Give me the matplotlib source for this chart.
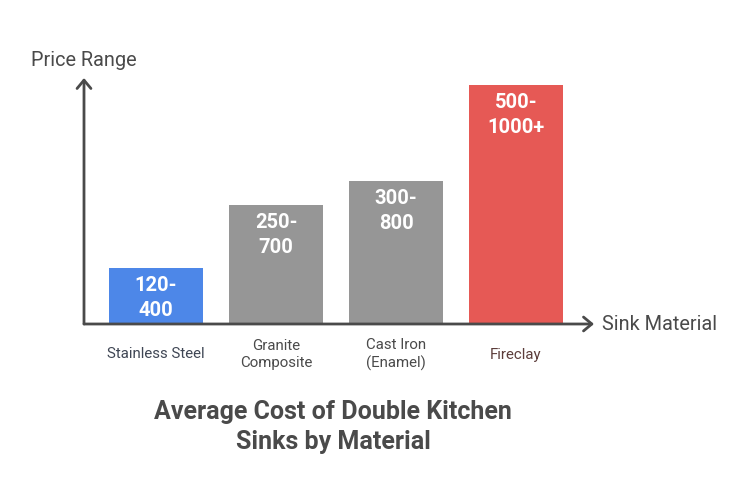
import matplotlib
matplotlib.use("Agg")
import matplotlib.pyplot as plt

plt.rcParams['font.family'] = ['Roboto', 'DejaVu Sans']

# values, bar heights are in pixels of the original
materials = ["Stainless Steel", "Granite\nComposite", "Cast Iron\n(Enamel)", "Fireclay"]
price_labels = ["120-\n400", "250-\n700", "300-\n800", "500-\n1000+"]
bar_heights = [56, 119, 143, 239]
bar_colors = ["#4d87e8", "#969696", "#969696", "#e65955"]
label_colors = ["#3f4654", "#4a4a4a", "#4a4a4a", "#5c3d3b"]

fig = plt.figure(figsize=(7.44, 5.04), dpi=100)
ax = fig.add_axes([0, 0, 1, 1])
ax.set_xlim(0, 744)
ax.set_ylim(504, 0)
ax.axis('off')

baseline = 324
centers = [156, 276, 396, 516]

# y axis is inverted, so the bars start at their top edge
tops = [baseline - h for h in bar_heights]
ax.bar(centers, bar_heights, width=94, bottom=tops, color=bar_colors, linewidth=0)

for c, top, txt in zip(centers, tops, price_labels):
    ax.text(c, top + 30, txt, ha='center', va='center', color='white',
            fontsize=14.5, fontweight='bold', linespacing=1.36)

for c, name, col in zip(centers, materials, label_colors):
    ax.text(c, 354.5, name, ha='center', va='center', color=col,
            fontsize=10.8, linespacing=1.3)

# axes with open arrow heads
axis_col = "#4a4a4a"
arrow = dict(arrowstyle='->,head_length=0.6,head_width=0.5', color=axis_col,
             lw=2, shrinkA=0, shrinkB=0)
ax.annotate("", xy=(84, 78), xytext=(84, 324), arrowprops=arrow)
ax.annotate("", xy=(594, 324), xytext=(84, 324), arrowprops=arrow)

ax.text(31, 60, "Price Range", ha='left', va='center', color=axis_col, fontsize=14.3)
ax.text(602, 324, "Sink Material", ha='left', va='center', color=axis_col, fontsize=14.35)

ax.text(333, 427, "Average Cost of Double Kitchen\nSinks by Material", ha='center', va='center',
        color=axis_col, fontsize=18, fontweight='bold', linespacing=1.3)

fig.savefig("out.png", dpi=100)
